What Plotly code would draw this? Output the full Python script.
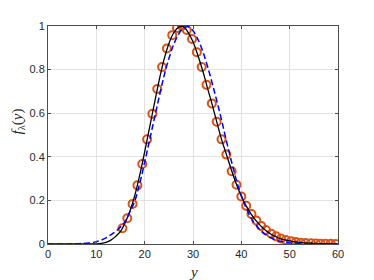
import plotly.graph_objects as go

# Black solid curve (x = 0..60)
line_x = list(range(0, 61))
line_y = [0, 0, 0, 0, 0, 0, 0, 0, 0, 0.0005, 0.001, 0.003, 0.008, 0.018, 0.035, 0.058,
          0.10, 0.154, 0.226, 0.318, 0.423, 0.533, 0.643, 0.751, 0.846, 0.919, 0.968,
          0.994, 0.997, 0.97, 0.928, 0.866, 0.796, 0.715, 0.637, 0.553, 0.473, 0.405,
          0.336, 0.273, 0.219, 0.175, 0.138, 0.108, 0.083, 0.063, 0.047, 0.035, 0.025,
          0.019, 0.014, 0.010, 0.007, 0.005, 0.004, 0.003, 0.002, 0.0015, 0.001, 0.001, 0.0005]

# Blue dashed curve (x = 0..60)
dash_x = list(range(0, 61))
dash_y = [0, 0, 0, 0, 0, 0.0005, 0.001, 0.002, 0.004, 0.006, 0.011, 0.018, 0.028, 0.042,
          0.058, 0.078, 0.105, 0.15, 0.20, 0.28, 0.375, 0.475, 0.575, 0.675, 0.77, 0.85,
          0.915, 0.962, 0.99, 0.997, 0.978, 0.94, 0.885, 0.815, 0.735, 0.65, 0.56, 0.465,
          0.375, 0.29, 0.222, 0.165, 0.12, 0.087, 0.062, 0.043, 0.03, 0.02, 0.013, 0.009,
          0.006, 0.004, 0.003, 0.002, 0.0015, 0.001, 0.0005, 0.0005, 0.0005, 0, 0]

# Orange circle markers
mark_x = [15.4, 16.4, 17.5, 18.5, 19.5, 20.5, 21.6, 22.6, 23.6, 24.6, 25.7, 26.7, 27.7,
          28.7, 29.8, 30.8, 31.8, 32.8, 33.9, 34.9, 35.9, 36.9, 38.0, 39.0, 40.0, 41.0,
          42.1, 43.1, 44.1, 45.1, 46.2, 47.2, 48.2, 49.2, 50.3, 51.3, 52.3, 53.3, 54.4,
          55.4, 56.4, 57.4, 58.5, 59.5]
mark_y = [0.072, 0.118, 0.184, 0.269, 0.367, 0.48, 0.597, 0.711, 0.812, 0.897, 0.958,
          0.991, 1.0, 0.982, 0.94, 0.88, 0.812, 0.73, 0.645, 0.561, 0.48, 0.41, 0.334,
          0.272, 0.218, 0.175, 0.138, 0.108, 0.083, 0.064, 0.047, 0.035, 0.025, 0.018,
          0.013, 0.009, 0.006, 0.0045, 0.003, 0.002, 0.0015, 0.001, 0.0007, 0.0005]

x_ticks = [0, 10, 20, 30, 40, 50, 60]
y_ticks = [0, 0.2, 0.4, 0.6, 0.8, 1]
y_tick_text = ["0", "0.2", "0.4", "0.6", "0.8", "1"]

fig = go.Figure()
fig.add_trace(go.Scatter(x=mark_x, y=mark_y, mode="markers",
                         marker=dict(symbol="circle-open", size=8, color="#D95319",
                                     line=dict(width=2, color="#D95319")),
                         showlegend=False))
fig.add_trace(go.Scatter(x=line_x, y=line_y, mode="lines", line_shape="spline",
                         line=dict(color="black", width=1.3), showlegend=False))
fig.add_trace(go.Scatter(x=dash_x, y=dash_y, mode="lines", line_shape="spline",
                         line=dict(color="#0000FF", width=1.5, dash="6px,3px"),
                         showlegend=False))

axis_common = dict(showgrid=True, gridcolor="#e3e3e3", gridwidth=1,
                   showline=True, linecolor="#4d4d4d", linewidth=1, mirror="allticks",
                   ticks="inside", ticklen=3, tickcolor="#4d4d4d", zeroline=False,
                   tickfont=dict(family="Liberation Sans, Arial, sans-serif", size=11,
                                 color="#262626"))

fig.update_xaxes(range=[0, 60], tickvals=x_ticks, **axis_common)
fig.update_yaxes(range=[0, 1], tickvals=y_ticks, ticktext=y_tick_text, **axis_common)

# the page body adds an 8px margin, so the figure is sized to fit inside it
fig.update_layout(
    width=366, height=272,
    margin=dict(l=40, r=36, t=13, b=36),
    paper_bgcolor="white", plot_bgcolor="white",
    annotations=[
        dict(text="<i>y</i>", xref="paper", yref="paper", x=0.5, y=-0.13,
             xanchor="center", yanchor="middle", showarrow=False,
             font=dict(family="Liberation Serif, DejaVu Serif, serif", size=15,
                       color="#262626")),
        dict(text="<i>f</i><sub>λ</sub>(<i>y</i>)", xref="paper", yref="paper",
             x=-0.105, y=0.56, xanchor="center", yanchor="middle", textangle=-90,
             showarrow=False,
             font=dict(family="Liberation Serif, DejaVu Serif, serif", size=15,
                       color="#262626")),
    ],
)

fig.write_html("out.html")
